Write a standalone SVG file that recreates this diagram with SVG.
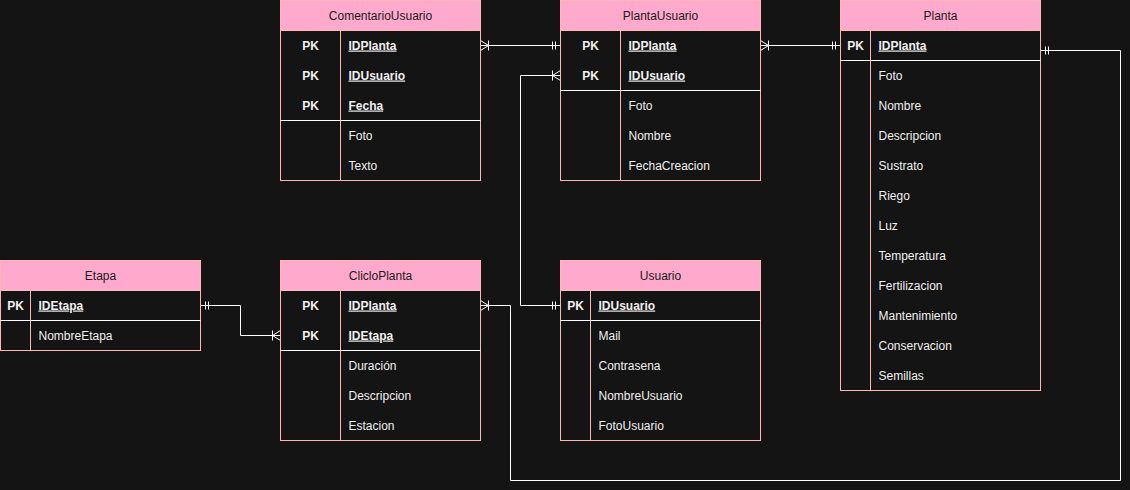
<svg xmlns="http://www.w3.org/2000/svg" width="1130" height="490" viewBox="0 0 1130 490">
<style>
.box{fill:#141414;stroke:#ffb6b6;stroke-width:1}
.hdr{fill:#ffaacc;stroke:#ffb6b6;stroke-width:1}
.div{stroke:#ffb6b6;stroke-width:1}
.sep{stroke:#ffffff;stroke-width:1}
.ht{font-family:"Liberation Sans",Arial,sans-serif;font-size:12px;fill:#1a1a1a;text-anchor:middle}
.t{font-family:"Liberation Sans",Arial,sans-serif;font-size:12px;fill:#f0f0f0}
.pk{font-family:"Liberation Sans",Arial,sans-serif;font-size:12px;fill:#f0f0f0;font-weight:bold;text-anchor:middle}
.k{font-family:"Liberation Sans",Arial,sans-serif;font-size:12px;fill:#f0f0f0;font-weight:bold;text-decoration:underline}
.edge{fill:none;stroke:#ffffff;stroke-width:1}
</style>
<defs>
<marker id="one" markerUnits="userSpaceOnUse" markerWidth="20" markerHeight="20" refX="20" refY="10" orient="auto-start-reverse" overflow="visible">
<path d="M15,6V14M12,6V14" fill="none" stroke="#ffffff" stroke-width="1"/>
</marker>
<marker id="many" markerUnits="userSpaceOnUse" markerWidth="20" markerHeight="20" refX="20" refY="10" orient="auto-start-reverse" overflow="visible">
<path d="M20,5L12,10L20,15M12,5V15" fill="none" stroke="#ffffff" stroke-width="1"/>
</marker>
</defs>
<rect width="1130" height="490" fill="#141414"/>
<g transform="translate(0.5,0.5)">
<g id="edges">
<path class="edge" d="M480,45H560" marker-start="url(#many)" marker-end="url(#one)"/>
<path class="edge" d="M760,45H840" marker-start="url(#many)" marker-end="url(#one)"/>
<path class="edge" d="M1040,50H1120V480H510V305H480" marker-start="url(#one)" marker-end="url(#many)"/>
<path class="edge" d="M560,305H520V75H560" marker-start="url(#one)" marker-end="url(#many)"/>
<path class="edge" d="M200,305H240V335H280" marker-start="url(#one)" marker-end="url(#many)"/>
</g>

<g id="ComentarioUsuario">
<rect class="box" x="280" y="0" width="200" height="180"/>
<rect class="hdr" x="280" y="0" width="200" height="30"/>
<text class="ht" x="380" y="19">ComentarioUsuario</text>
<line class="div" x1="340" y1="30" x2="340" y2="180"/>
<line class="sep" x1="280" y1="120" x2="480" y2="120"/>
<text class="pk" x="310" y="49">PK</text><text class="k" x="348" y="49">IDPlanta</text>
<text class="pk" x="310" y="79">PK</text><text class="k" x="348" y="79">IDUsuario</text>
<text class="pk" x="310" y="109">PK</text><text class="k" x="348" y="109">Fecha</text>
<text class="t" x="348" y="139">Foto</text>
<text class="t" x="348" y="169">Texto</text>
</g>

<g id="PlantaUsuario">
<rect class="box" x="560" y="0" width="200" height="180"/>
<rect class="hdr" x="560" y="0" width="200" height="30"/>
<text class="ht" x="660" y="19">PlantaUsuario</text>
<line class="div" x1="620" y1="30" x2="620" y2="180"/>
<line class="sep" x1="560" y1="90" x2="760" y2="90"/>
<text class="pk" x="590" y="49">PK</text><text class="k" x="628" y="49">IDPlanta</text>
<text class="pk" x="590" y="79">PK</text><text class="k" x="628" y="79">IDUsuario</text>
<text class="t" x="628" y="109">Foto</text>
<text class="t" x="628" y="139">Nombre</text>
<text class="t" x="628" y="169">FechaCreacion</text>
</g>

<g id="Planta">
<rect class="box" x="840" y="0" width="200" height="390"/>
<rect class="hdr" x="840" y="0" width="200" height="30"/>
<text class="ht" x="940" y="19">Planta</text>
<line class="div" x1="870" y1="30" x2="870" y2="390"/>
<line class="sep" x1="840" y1="60" x2="1040" y2="60"/>
<text class="pk" x="855" y="49">PK</text><text class="k" x="878" y="49">IDPlanta</text>
<text class="t" x="878" y="79">Foto</text>
<text class="t" x="878" y="109">Nombre</text>
<text class="t" x="878" y="139">Descripcion</text>
<text class="t" x="878" y="169">Sustrato</text>
<text class="t" x="878" y="199">Riego</text>
<text class="t" x="878" y="229">Luz</text>
<text class="t" x="878" y="259">Temperatura</text>
<text class="t" x="878" y="289">Fertilizacion</text>
<text class="t" x="878" y="319">Mantenimiento</text>
<text class="t" x="878" y="349">Conservacion</text>
<text class="t" x="878" y="379">Semillas</text>
</g>

<g id="Etapa">
<rect class="box" x="0" y="260" width="200" height="90"/>
<rect class="hdr" x="0" y="260" width="200" height="30"/>
<text class="ht" x="100" y="279">Etapa</text>
<line class="div" x1="30" y1="290" x2="30" y2="350"/>
<line class="sep" x1="0" y1="320" x2="200" y2="320"/>
<text class="pk" x="15" y="309">PK</text><text class="k" x="38" y="309">IDEtapa</text>
<text class="t" x="38" y="339">NombreEtapa</text>
</g>

<g id="ClicloPlanta">
<rect class="box" x="280" y="260" width="200" height="180"/>
<rect class="hdr" x="280" y="260" width="200" height="30"/>
<text class="ht" x="380" y="279">ClicloPlanta</text>
<line class="div" x1="340" y1="290" x2="340" y2="440"/>
<line class="sep" x1="280" y1="350" x2="480" y2="350"/>
<text class="pk" x="310" y="309">PK</text><text class="k" x="348" y="309">IDPlanta</text>
<text class="pk" x="310" y="339">PK</text><text class="k" x="348" y="339">IDEtapa</text>
<text class="t" x="348" y="369">Duración</text>
<text class="t" x="348" y="399">Descripcion</text>
<text class="t" x="348" y="429">Estacion</text>
</g>

<g id="Usuario">
<rect class="box" x="560" y="260" width="200" height="180"/>
<rect class="hdr" x="560" y="260" width="200" height="30"/>
<text class="ht" x="660" y="279">Usuario</text>
<line class="div" x1="590" y1="290" x2="590" y2="440"/>
<line class="sep" x1="560" y1="320" x2="760" y2="320"/>
<text class="pk" x="575" y="309">PK</text><text class="k" x="598" y="309">IDUsuario</text>
<text class="t" x="598" y="339">Mail</text>
<text class="t" x="598" y="369">Contrasena</text>
<text class="t" x="598" y="399">NombreUsuario</text>
<text class="t" x="598" y="429">FotoUsuario</text>
</g>
</g>
</svg>
